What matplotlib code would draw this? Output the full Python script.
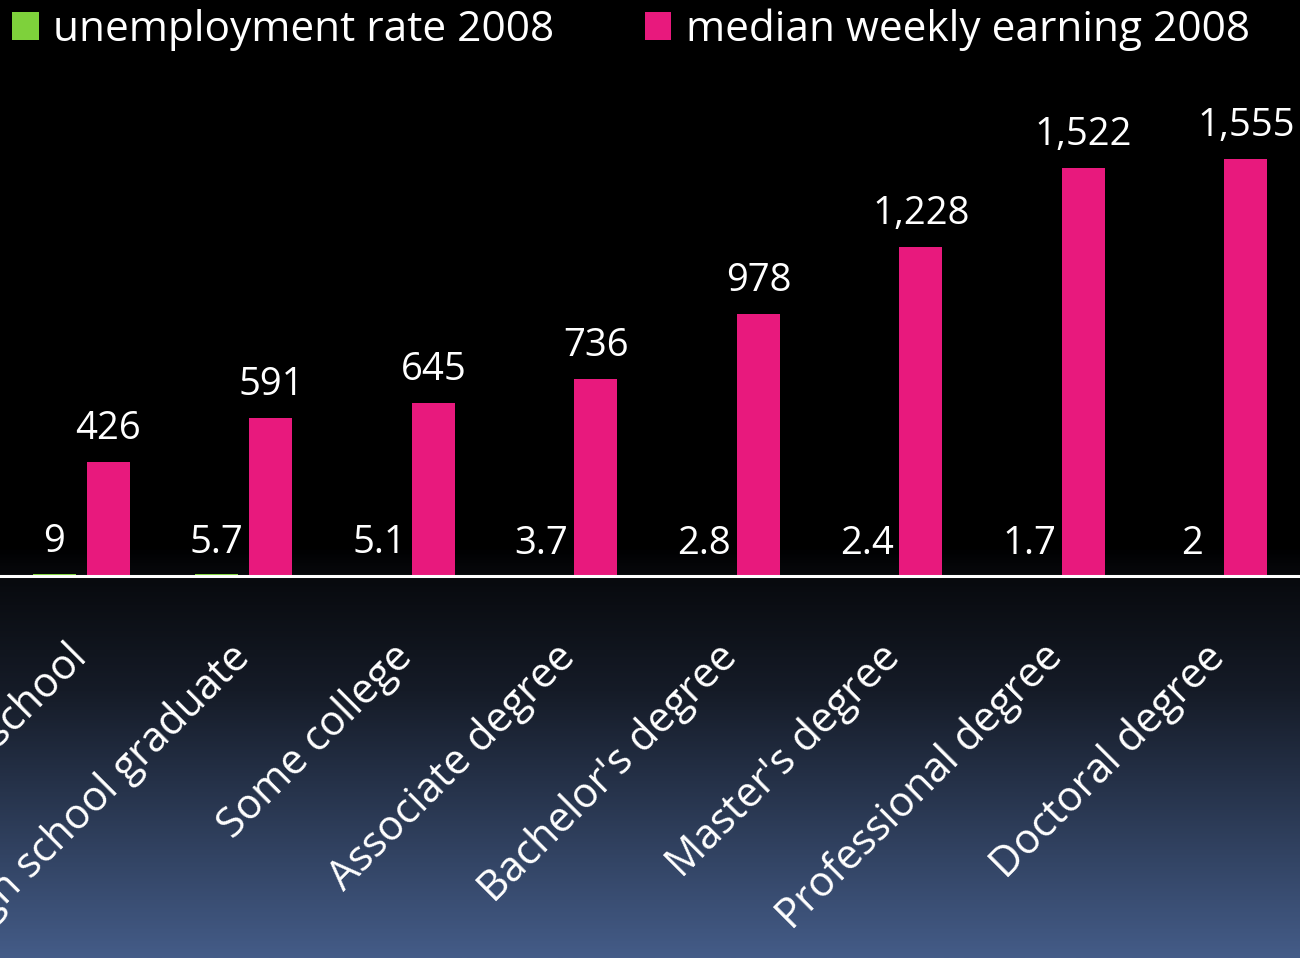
import numpy as np
import matplotlib
matplotlib.use("Agg")
import matplotlib.pyplot as plt
from matplotlib.colors import LinearSegmentedColormap

plt.rcParams['font.family'] = ['Open Sans', 'DejaVu Sans']

categories = ["Less than high school", "High school graduate", "Some college",
              "Associate degree", "Bachelor's degree", "Master's degree",
              "Professional degree", "Doctoral degree"]
unemployment = [9, 5.7, 5.1, 3.7, 2.8, 2.4, 1.7, 2]
earnings = [426, 591, 645, 736, 978, 1228, 1522, 1555]
unemp_labels = ["9", "5.7", "5.1", "3.7", "2.8", "2.4", "1.7", "2"]
earn_labels = ["426", "591", "645", "736", "978", "1,228", "1,522", "1,555"]

green = '#7ed13b'
pink = '#e8197d'

W, H = 1300, 958
fig = plt.figure(figsize=(W / 100, H / 100), dpi=100)
fig.patch.set_facecolor('black')

# background gradient: black on top, slate blue at the bottom
bg = fig.add_axes([0, 0, 1, 1], zorder=-10)
bg.axis('off')
rows = np.arange(H)
cmap = LinearSegmentedColormap.from_list(
    'bg', [(0, '#000000'), (0.08, '#080a0e'), (0.35, '#151b27'), (1, '#445c88')], N=256)
vals = np.clip((rows - 545) / (H - 545), 0, 1)
bg.imshow(vals.reshape(-1, 1), aspect='auto', cmap=cmap, vmin=0, vmax=1,
          extent=[0, 1, 0, 1], origin='upper')

base = (H - 576) / H
ax = fig.add_axes([0, base, 1, 1 - base])
ax.set_facecolor('none')
x = np.arange(len(categories))
bw = 0.265
off = 0.167
b1 = ax.bar(x - off, unemployment, bw, color=green, label='unemployment rate 2008')
b2 = ax.bar(x + off, earnings, bw, color=pink, label='median weekly earning 2008')

ax.set_xlim(-0.5, len(categories) - 0.5)
ax.set_ylim(0, 576 * 3.73)
for s in ['top', 'right', 'left']:
    ax.spines[s].set_visible(False)
ax.spines['bottom'].set_color('white')
ax.spines['bottom'].set_linewidth(2.2)
ax.set_yticks([])
ax.set_xticks([])

for i in range(len(categories)):
    ax.annotate(unemp_labels[i], xy=(x[i] - off, unemployment[i]), xytext=(0, 9),
                textcoords='offset points', ha='center', va='bottom',
                color='white', fontsize=27.5)
    ax.annotate(earn_labels[i], xy=(x[i] + off, earnings[i]), xytext=(0, 10),
                textcoords='offset points', ha='center', va='bottom',
                color='white', fontsize=27.5)
    ax.annotate(categories[i], xy=(x[i], 0), xytext=(0, -54),
                textcoords='offset points', ha='right', va='center',
                rotation=45, rotation_mode='anchor', color='white',
                fontsize=30, annotation_clip=False)

leg = ax.legend(loc='upper left', bbox_to_anchor=(0.003, 1.0), bbox_transform=fig.transFigure,
                ncol=2, frameon=False, fontsize=30.5, handlelength=0.62, handleheight=0.62,
                handletextpad=0.35, columnspacing=2.12, borderaxespad=0.1, borderpad=0.1)
for txt in leg.get_texts():
    txt.set_color('white')

fig.savefig('out.png', dpi=100, facecolor=fig.get_facecolor())
